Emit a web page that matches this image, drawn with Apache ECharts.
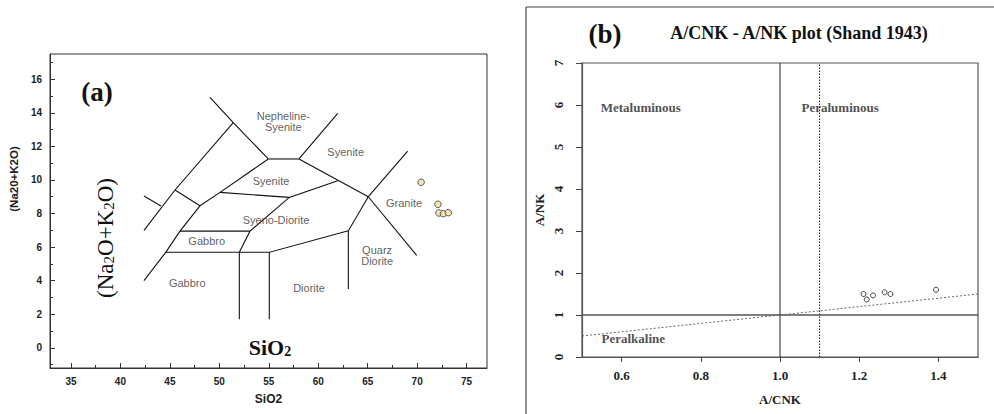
<!DOCTYPE html>
<html><head><meta charset="utf-8">
<script src="https://cdn.jsdelivr.net/npm/echarts@6/dist/echarts.min.js"></script>
<style>html,body{margin:0;padding:0;background:#fff}#c{width:994px;height:414px}</style>
</head><body><div id="c"></div>
<script>
// ---------- Panel (a): TAS diagram ----------
const tasXTicks = [35, 40, 45, 50, 55, 60, 65, 70, 75];
const tasXMinorTicks = [37.5, 42.5, 47.5, 52.5, 57.5, 62.5, 67.5, 72.5];
const tasYTicks = [0, 2, 4, 6, 8, 10, 12, 14, 16];
const tasYMinorTicks = [-1, 1, 3, 5, 7, 9, 11, 13, 15, 17];
const sampleSiO2 = [70.4, 72.1, 72.2, 72.65, 73.15];
const sampleAlkali = [9.86, 8.55, 8.03, 7.99, 8.05];
const fieldBoundaries = [
  [[49.05, 14.92], [51.41, 13.41], [54.95, 11.25]],
  [[58.05, 11.25], [61.97, 13.97]],
  [[58.05, 11.25], [65.06, 9.0]],
  [[65.06, 9.0], [69.04, 11.72]],
  [[65.06, 9.0], [69.95, 5.51]],
  [[65.06, 9.0], [63.04, 6.97], [63.04, 3.5]],
  [[63.04, 6.97], [55.05, 5.69], [55.05, 1.71]],
  [[44.58, 5.69], [55.05, 5.69]],
  [[52.02, 5.69], [52.02, 1.71]],
  [[52.02, 5.69], [53.1, 6.95], [57.07, 8.96], [61.97, 9.95]],
  [[50.07, 9.26], [57.07, 8.96]],
  [[54.95, 11.25], [50.07, 9.26], [48.04, 8.46]],
  [[45.52, 9.4], [48.04, 8.46]],
  [[48.04, 8.46], [46.02, 6.95], [44.58, 5.69], [42.38, 4.0]],
  [[46.02, 6.95], [53.1, 6.95]],
  [[51.41, 13.41], [45.52, 9.4], [42.38, 7.0]],
  [[42.38, 9.04], [44.1, 8.45]]
];
const nephelineSyeniteBase = [[54.95, 11.25], [58.05, 11.25]];
const fieldNames = ['Nepheline-\nSyenite', 'Syenite', 'Syenite', 'Syeno-Diorite', 'Granite', 'Gabbro', 'Gabbro', 'Diorite', 'Quarz\nDiorite'];
const fieldNameSiO2 = [56.47, 62.77, 55.22, 55.73, 68.67, 48.72, 46.76, 59.07, 65.95];
const fieldNameAlkali = [13.47, 11.64, 9.95, 7.59, 8.6, 6.38, 3.84, 3.58, 5.48];

// ---------- Panel (b): Shand A/CNK - A/NK ----------
const shandXTicks = [0.6, 0.8, 1.0, 1.2, 1.4];
const shandYTicks = [0, 1, 2, 3, 4, 5, 6, 7];
const sampleACNK = [1.211, 1.219, 1.235, 1.264, 1.279, 1.394];
const sampleANK = [1.50, 1.37, 1.465, 1.54, 1.50, 1.60];
const metaPeraBoundary = 1.0;
const sTypeBoundary = 1.1;
const peralkalineBoundary = 1.0;
const equalityLine = [0.5, 1.5];
const shandNames = ['Metaluminous', 'Peraluminous', 'Peralkaline'];
const shandNameACNK = [0.546, 1.053, 0.548];
const shandNameANK = [5.93, 5.94, 0.45];

const SANS = 'Liberation Sans, Arial, sans-serif';
const SERIF = 'Liberation Serif, Times New Roman, serif';

const chart = echarts.init(document.getElementById('c'), null, { renderer: 'svg' });

const tasTickLabel = { fontFamily: SANS, fontWeight: 'bold', fontSize: 10, color: '#222' };
const shandTickLabel = { fontFamily: SERIF, fontWeight: 'bold', fontSize: 13, color: '#222' };

const option = {
  backgroundColor: '#fff',
  animation: false,
  grid: [
    { left: 50, top: 54, width: 437, height: 314, show: true, borderColor: '#333', borderWidth: 1, outerBoundsMode: 'none', containLabel: false },
    { left: 582, top: 63, width: 396, height: 294, show: true, borderColor: '#555', borderWidth: 1.2, outerBoundsMode: 'none', containLabel: false }
  ],
  xAxis: [
    { type: 'value', gridIndex: 0, min: 32.88, max: 77.06, position: 'bottom',
      name: 'SiO2', nameLocation: 'middle', nameGap: 25,
      nameTextStyle: { fontFamily: SANS, fontWeight: 'bold', fontSize: 12, color: '#222' },
      axisLine: { show: true, onZero: false, lineStyle: { color: '#333', width: 1 } },
      axisTick: { show: true, inside: true, length: 5, customValues: tasXTicks, lineStyle: { color: '#333' } },
      axisLabel: { show: true, margin: 8, customValues: tasXTicks, ...tasTickLabel },
      splitLine: { show: false } },
    { type: 'value', gridIndex: 0, min: 32.88, max: 77.06, position: 'bottom',
      axisLine: { show: false, onZero: false },
      axisTick: { show: true, inside: true, length: 3, customValues: tasXMinorTicks, lineStyle: { color: '#333' } },
      axisLabel: { show: false }, splitLine: { show: false } },
    { type: 'value', gridIndex: 1, min: 0.5, max: 1.5, position: 'bottom',
      name: 'A/CNK', nameLocation: 'middle', nameGap: 36,
      nameTextStyle: { fontFamily: SERIF, fontWeight: 'bold', fontSize: 13, color: '#222' },
      axisLine: { show: true, onZero: false, lineStyle: { color: '#555', width: 1.2 } },
      axisTick: { show: true, inside: false, length: 5, customValues: shandXTicks, lineStyle: { color: '#444' } },
      axisLabel: { show: true, margin: 12, customValues: shandXTicks, formatter: v => v.toFixed(1), ...shandTickLabel },
      splitLine: { show: false } }
  ],
  yAxis: [
    { type: 'value', gridIndex: 0, min: -1.2, max: 17.5, position: 'left',
      axisLine: { show: true, onZero: false, lineStyle: { color: '#333', width: 1 } },
      axisTick: { show: true, inside: true, length: 5, customValues: tasYTicks, lineStyle: { color: '#333' } },
      axisLabel: { show: true, margin: 8, customValues: tasYTicks, ...tasTickLabel },
      splitLine: { show: false } },
    { type: 'value', gridIndex: 0, min: -1.2, max: 17.5, position: 'left',
      axisLine: { show: false, onZero: false },
      axisTick: { show: true, inside: true, length: 3, customValues: tasYMinorTicks, lineStyle: { color: '#333' } },
      axisLabel: { show: false }, splitLine: { show: false } },
    { type: 'value', gridIndex: 1, min: 0, max: 7, interval: 1, position: 'left',
      name: 'A/NK', nameLocation: 'middle', nameGap: 36, nameRotate: 90,
      nameTextStyle: { fontFamily: SERIF, fontWeight: 'bold', fontSize: 13, color: '#222' },
      axisLine: { show: true, onZero: false, lineStyle: { color: '#555', width: 1.2 } },
      axisTick: { show: true, inside: false, length: 6, lineStyle: { color: '#444' } },
      axisLabel: { show: true, margin: 17, rotate: 90, ...shandTickLabel },
      splitLine: { show: false } }
  ],
  graphic: [
    { type: 'line', shape: { x1: 526, y1: 7, x2: 994, y2: 7 }, style: { stroke: '#444', lineWidth: 1.2 } },
    { type: 'line', shape: { x1: 526, y1: 7, x2: 526, y2: 414 }, style: { stroke: '#444', lineWidth: 1.2 } },
    { type: 'text', x: 97, y: 92, style: { text: '(a)', fontFamily: SERIF, fontWeight: 'bold', fontSize: 27, fill: '#111', align: 'center', verticalAlign: 'middle' } },
    { type: 'text', x: 605, y: 34, style: { text: '(b)', fontFamily: SERIF, fontWeight: 'bold', fontSize: 27, fill: '#111', align: 'center', verticalAlign: 'middle' } },
    { type: 'text', x: 799, y: 33, style: { text: 'A/CNK - A/NK plot (Shand 1943)', fontFamily: SERIF, fontWeight: 'bold', fontSize: 18, fill: '#111', align: 'center', verticalAlign: 'middle' } },
    { type: 'text', x: 14, y: 179, rotation: Math.PI / 2, style: { text: '(Na20+K2O)', fontFamily: SANS, fontWeight: 'bold', fontSize: 11.5, fill: '#222', align: 'center', verticalAlign: 'middle' } },
    { type: 'text', x: 105, y: 238, rotation: Math.PI / 2,
      style: { text: '{n|(Na}{s|2}{n|O+K}{s|2}{n|O)}', align: 'center', verticalAlign: 'middle', fill: '#111',
        rich: { n: { fontFamily: SERIF, fontSize: 23, fill: '#111' }, s: { fontFamily: SERIF, fontSize: 15, fill: '#111', verticalAlign: 'bottom' } } } },
    { type: 'text', x: 270, y: 347,
      style: { text: '{n|SiO}{s|2}', align: 'center', verticalAlign: 'middle', fill: '#111',
        rich: { n: { fontFamily: SERIF, fontWeight: 'bold', fontSize: 22, fill: '#111' }, s: { fontFamily: SERIF, fontWeight: 'bold', fontSize: 14, fill: '#111', verticalAlign: 'bottom' } } } }
  ],
  series: [
    { type: 'lines', coordinateSystem: 'cartesian2d', xAxisIndex: 0, yAxisIndex: 0, polyline: true, silent: true,
      lineStyle: { color: '#111', width: 1.1, opacity: 1 },
      data: fieldBoundaries.map(c => ({ coords: c })) },
    { type: 'lines', coordinateSystem: 'cartesian2d', xAxisIndex: 0, yAxisIndex: 0, polyline: true, silent: true,
      lineStyle: { color: '#777', width: 2, opacity: 1 },
      data: [{ coords: nephelineSyeniteBase }] },
    { type: 'scatter', xAxisIndex: 0, yAxisIndex: 0, symbolSize: 1, silent: true,
      itemStyle: { color: 'rgba(0,0,0,0)' },
      label: { show: true, position: 'inside', formatter: '{b}', fontFamily: SANS, fontSize: 11, color: '#333', lineHeight: 11 },
      data: fieldNames.map((n, i) => ({ name: n, value: [fieldNameSiO2[i], fieldNameAlkali[i]] })) },
    { type: 'scatter', xAxisIndex: 0, yAxisIndex: 0, symbol: 'circle', symbolSize: 6.5,
      itemStyle: { color: '#f3e2a6', borderColor: '#333', borderWidth: 1 },
      data: sampleSiO2.map((x, i) => [x, sampleAlkali[i]]) },
    { type: 'line', xAxisIndex: 2, yAxisIndex: 2, symbol: 'none', silent: true,
      lineStyle: { color: '#222', width: 1 },
      data: [[metaPeraBoundary, 0], [metaPeraBoundary, 7]] },
    { type: 'line', xAxisIndex: 2, yAxisIndex: 2, symbol: 'none', silent: true,
      lineStyle: { color: '#111', width: 1, type: [1.5, 1.5] },
      data: [[sTypeBoundary, 0], [sTypeBoundary, 7]] },
    { type: 'line', xAxisIndex: 2, yAxisIndex: 2, symbol: 'none', silent: true,
      lineStyle: { color: '#555', width: 1.4 },
      data: [[0.5, peralkalineBoundary], [1.5, peralkalineBoundary]] },
    { type: 'line', xAxisIndex: 2, yAxisIndex: 2, symbol: 'none', silent: true,
      lineStyle: { color: '#666', width: 1, type: [2, 2] },
      data: equalityLine.map(v => [v, v]) },
    { type: 'scatter', xAxisIndex: 2, yAxisIndex: 2, symbolSize: 1, silent: true,
      itemStyle: { color: 'rgba(0,0,0,0)' },
      label: { show: true, position: 'right', distance: 0, formatter: '{b}', fontFamily: SERIF, fontWeight: 'bold', fontSize: 13, color: '#222' },
      data: shandNames.map((n, i) => ({ name: n, value: [shandNameACNK[i], shandNameANK[i]] })) },
    { type: 'scatter', xAxisIndex: 2, yAxisIndex: 2, symbol: 'circle', symbolSize: 5,
      itemStyle: { color: '#fff', borderColor: '#111', borderWidth: 1 },
      data: sampleACNK.map((x, i) => [x, sampleANK[i]]) }
  ]
};
chart.setOption(option);
</script></body></html>
